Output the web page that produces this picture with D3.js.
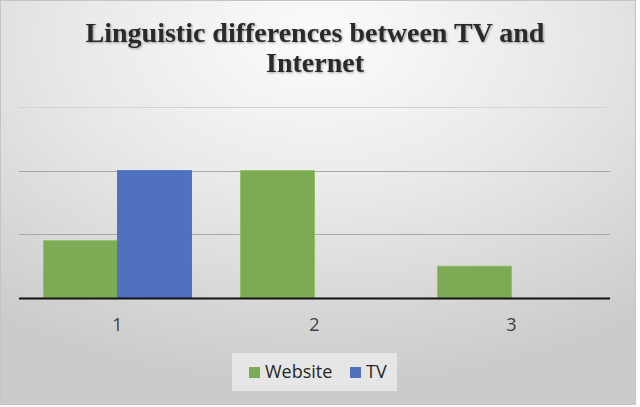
<!DOCTYPE html>
<html><head><meta charset="utf-8">
<script src="https://cdn.jsdelivr.net/npm/d3@7"></script>
<style>
html,body{margin:0;padding:0;background:#fff;}
svg{display:block;}
</style></head>
<body>
<svg id="chart" width="640" height="407"></svg>
<script>
const categories = ["1", "2", "3"];
const seriesNames = ["Website", "TV"];
const websiteValues = [0.9, 2, 0.5];
const tvValues = [2, 0, 0];
const yTicks = [0, 1, 2, 3];
const titleLines = ["Linguistic differences between TV and", "Internet"];
const colors = {Website: "#7dab55", TV: "#4f71be"};
const strokes = {Website: "#8cbf5f", TV: "#3a66c6"};

const svg = d3.select("#chart");
const W = 636, H = 405;
const defs = svg.append("defs");
const rg = defs.append("radialGradient").attr("id", "bg")
  .attr("cx", "50%").attr("cy", "10%").attr("r", "85%")
  .attr("fx", "50%").attr("fy", "10%");
rg.append("stop").attr("offset", "0%").attr("stop-color", "#fcfcfc");
rg.append("stop").attr("offset", "45%").attr("stop-color", "#e9e9e9");
rg.append("stop").attr("offset", "100%").attr("stop-color", "#cbcbcb");
const sh = defs.append("filter").attr("id", "shadow").attr("x", "-5%").attr("y", "-20%").attr("width", "110%").attr("height", "140%");
sh.append("feDropShadow").attr("dx", 1).attr("dy", 1).attr("stdDeviation", 0.8).attr("flood-color", "#000").attr("flood-opacity", 0.35);

svg.append("rect").attr("x", 0.5).attr("y", 0.5).attr("width", W - 1).attr("height", H - 1)
  .attr("fill", "url(#bg)").attr("stroke", "#c4c4c4").attr("stroke-width", 1);

const x0 = d3.scaleBand().domain(categories).range([19, 610]).paddingInner(0).paddingOuter(0);
const x1 = d3.scaleBand().domain(seriesNames).range([0, x0.bandwidth()]).paddingInner(0).paddingOuter(0.331);
const y = d3.scaleLinear().domain([0, 3]).range([298, 107]);

// gridlines
svg.append("g").selectAll("line").data(yTicks.filter(t => t > 0)).join("line")
  .attr("x1", 19).attr("x2", 610)
  .attr("y1", d => Math.round(y(d)) + 0.5).attr("y2", d => Math.round(y(d)) + 0.5)
  .attr("stroke", d => d === 3 ? "#d2d2d2" : "#a8a8a8").attr("stroke-width", 1.2);

// bars
const rows = categories.map((c, i) => ({cat: c, vals: [
  {s: "Website", v: websiteValues[i]}, {s: "TV", v: tvValues[i]}]}));
const g = svg.append("g");
g.selectAll("g").data(rows).join("g")
  .attr("transform", d => `translate(${x0(d.cat)},0)`)
  .selectAll("rect").data(d => d.vals.filter(e => e.v > 0)).join("rect")
  .attr("x", d => x1(d.s)).attr("width", x1.bandwidth())
  .attr("y", d => y(d.v)).attr("height", d => y(0) - y(d.v))
  .attr("fill", d => colors[d.s]).attr("stroke", d => strokes[d.s]).attr("stroke-width", 0.8);

// x axis
const xAxis = svg.append("g").attr("transform", "translate(0,298.5)")
  .call(d3.axisBottom(x0).tickSize(0).tickPadding(20));
xAxis.select(".domain").attr("stroke", "#111").attr("stroke-width", 2).attr("d", "M19,0H610");
xAxis.selectAll("text").attr("font-family", "'Open Sans', sans-serif").attr("font-size", 18).attr("fill", "#404040");

// title
const title = svg.append("text").attr("text-anchor", "middle")
  .attr("font-family", "'Liberation Serif', 'Times New Roman', serif").attr("font-weight", "bold")
  .attr("font-size", 28).attr("fill", "#2b2b2b").attr("filter", "url(#shadow)");
title.selectAll("tspan").data(titleLines).join("tspan")
  .attr("x", 315).attr("y", (d, i) => 42 + i * 30).text(d => d);

// legend
const lg = svg.append("g");
lg.append("rect").attr("x", 232).attr("y", 353).attr("width", 165).attr("height", 38).attr("fill", "#e6e6e6");
const items = [{s: "Website", sx: 249, tx: 265}, {s: "TV", sx: 350, tx: 366}];
items.forEach(it => {
  lg.append("rect").attr("x", it.sx).attr("y", 367).attr("width", 11).attr("height", 11).attr("fill", colors[it.s]);
  lg.append("text").attr("x", it.tx).attr("y", 378).attr("font-family", "'Open Sans', sans-serif")
    .attr("font-size", 18).attr("fill", "#262626").text(it.s);
});
</script>
</body></html>
